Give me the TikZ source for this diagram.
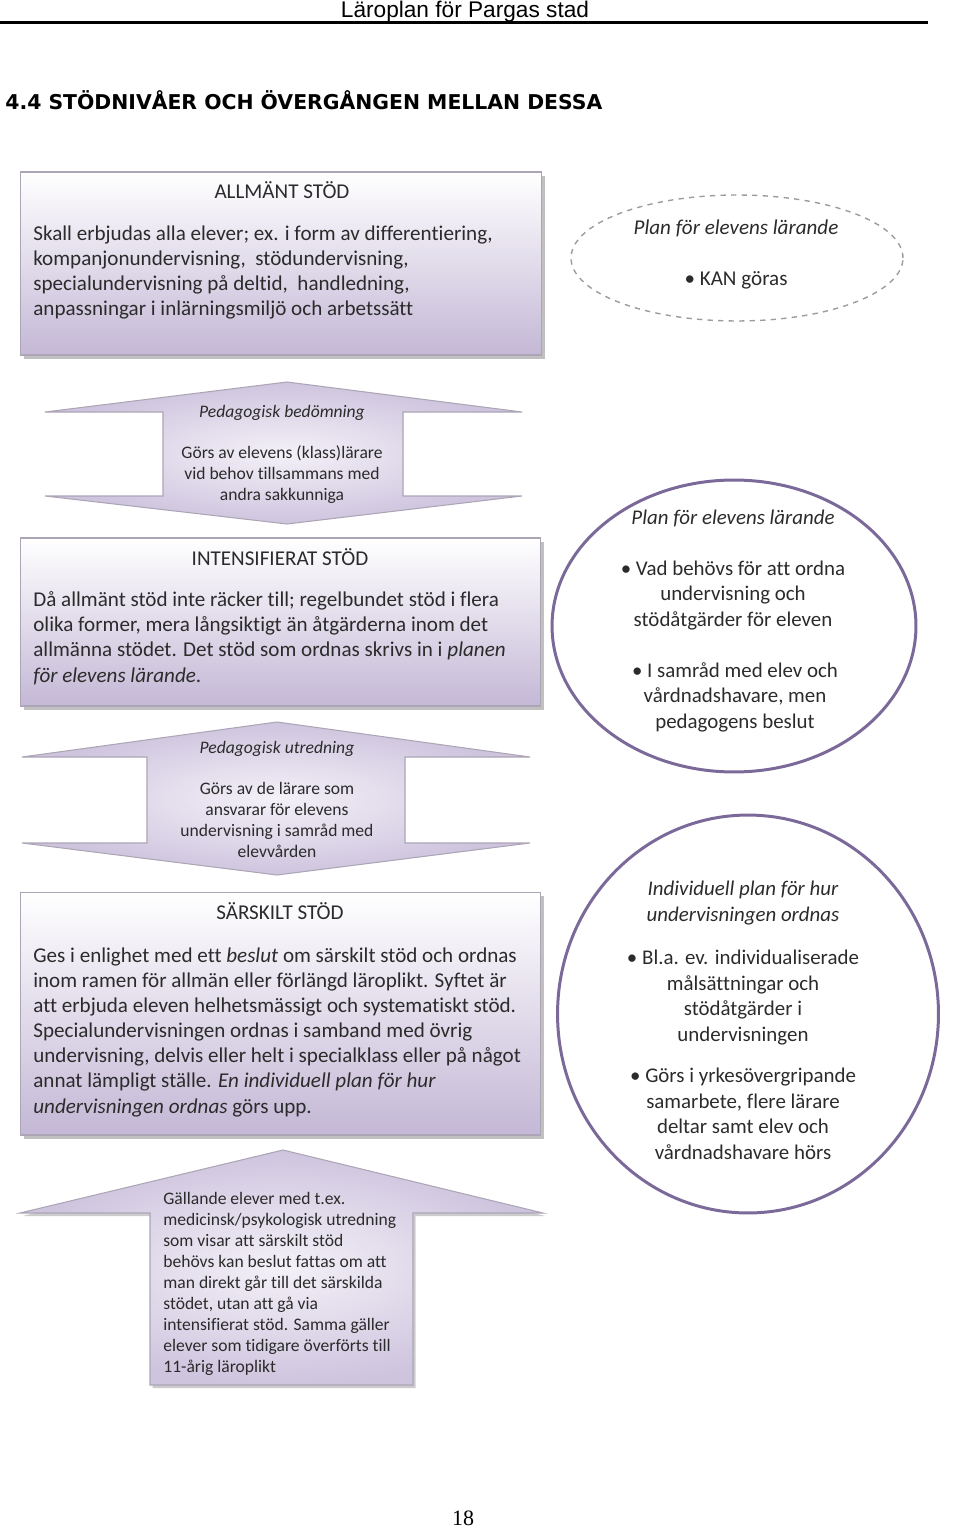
\documentclass[tikz,border=0pt]{standalone}
\usepackage{fontspec}
\setmainfont{Carlito}[Ligatures={NoCommon}]
\newfontfamily\headfont{Liberation Sans}
\newfontfamily\titlefont{DejaVu Sans}
\newfontfamily\numfont{Liberation Serif}
\usepackage{tikz}
\usetikzlibrary{positioning,shapes.geometric,shadows}
\definecolor{LavDeep}{HTML}{C4B8D6}
\definecolor{LavLight}{HTML}{F4F1F8}
\definecolor{LavArrow}{HTML}{CEC4DE}
\definecolor{EdgeGray}{HTML}{ACA5B6}
\definecolor{RingPurple}{HTML}{7A6999}
\definecolor{DashGray}{HTML}{9C9C9C}
\definecolor{InkGray}{HTML}{2B2B2B}
\newcommand\boxsize{\fontsize{12pt}{14.3pt}\selectfont}
\newcommand\arrowsize{\fontsize{10pt}{11.9pt}\selectfont}
\newcommand\ringsize{\fontsize{11.9pt}{14.5pt}\selectfont}

\begin{document}
\begin{tikzpicture}[
    x=0.02cm, y=-0.02cm,
    stodbox/.style={
        rectangle,
        draw=EdgeGray,
        line width=0.6pt,
        top color=white,
        bottom color=LavDeep,
        drop shadow={shadow xshift=0.07cm, shadow yshift=-0.08cm, fill=black!45, opacity=0.55}
    },
    stodarrow/.style={
        draw=EdgeGray,
        line width=0.6pt,
        inner color=LavLight,
        outer color=LavArrow
    },
    planring/.style={
        ellipse,
        draw=RingPurple,
        line width=1.7pt
    },
    plandash/.style={
        ellipse,
        draw=DashGray,
        dashed,
        line width=0.8pt
    },
    boxtext/.style={font=\boxsize, text=InkGray, inner sep=0pt, align=left},
    arrowtext/.style={font=\arrowsize, text=InkGray, inner sep=0pt, align=center},
    ringtext/.style={font=\ringsize, text=InkGray, inner sep=0pt, align=center}
]
\useasboundingbox (0,0) rectangle (960,1530);

\node[font=\headfont\fontsize{12.9pt}{14pt}\selectfont, inner sep=0pt, anchor=base] (head) at (465,18) {Läroplan för Pargas stad};
\draw[line width=1.7pt] (0,23) -- (928,23);
\node[font=\titlefont\bfseries\fontsize{11.6pt}{13pt}\selectfont, inner sep=0pt, anchor=base west] (rubrik) at (5,110) {4.4 STÖDNIVÅER OCH ÖVERGÅNGEN MELLAN DESSA};

\node[stodbox, minimum width=10.44cm, minimum height=3.66cm] (allmant) at (281,263.5) {};
\node[boxtext, anchor=base] (allmantRubrik) at (282,199) {ALLMÄNT STÖD};
\node[boxtext, anchor=base west] (allmantText) at (33,316) {Skall erbjudas alla elever; ex. i form av differentiering,\\
kompanjonundervisning,~ stödundervisning,\\
specialundervisning på deltid,~ handledning,\\
anpassningar i inlärningsmiljö och arbetssätt};

\node[plandash, minimum width=6.64cm, minimum height=2.52cm] (planKan) at (737,258) {};
\node[ringtext, font=\fontsize{12pt}{14.5pt}\selectfont, anchor=base] (planKanRubrik) at (736,235) {\itshape Plan för elevens lärande};
\node[ringtext, font=\fontsize{12pt}{14.5pt}\selectfont, anchor=base] (planKanText) at (736,286) {• KAN göras};

\path[stodarrow] (287,382) -- (522,412) -- (403,412) -- (403,496) -- (522,496) -- (287,524)
    -- (45,496) -- (163,496) -- (163,412) -- (45,412) -- cycle;
\node[arrowtext, anchor=base] (bedomning) at (282,418) {\itshape Pedagogisk bedömning};
\node[arrowtext, anchor=base] (bedomningText) at (282,500) {Görs av elevens (klass)lärare\\vid behov tillsammans med\\andra sakkunniga};

\node[stodbox, minimum width=10.42cm, minimum height=3.36cm] (intensifierat) at (280.5,622) {};
\node[boxtext, anchor=base] (intensifieratRubrik) at (280,565) {INTENSIFIERAT STÖD};
\node[boxtext, anchor=base west] (intensifieratText) at (33,682) {Då allmänt stöd inte räcker till; regelbundet stöd i flera\\
olika former, mera långsiktigt än åtgärderna inom det\\
allmänna stödet. Det stöd som ordnas skrivs in i \textit{planen}\\
\textit{för elevens lärande}.};

\node[planring, minimum width=7.28cm, minimum height=5.84cm] (planLarande) at (734,626) {};
\node[ringtext, anchor=base] (planLarandeRubrik) at (733,524) {\itshape Plan för elevens lärande};
\node[ringtext, anchor=base] (planLarandeEtt) at (733,626) {• Vad behövs för att ordna\\undervisning och\\stödåtgärder för eleven};
\node[ringtext, anchor=base] (planLarandeTva) at (735,728) {• I samråd med elev och\\vårdnadshavare, men\\pedagogens beslut};

\path[stodarrow] (277,722) -- (530,757) -- (405,757) -- (405,843) -- (530,843) -- (277,875)
    -- (22,843) -- (147,843) -- (147,757) -- (22,757) -- cycle;
\node[arrowtext, anchor=base] (utredning) at (277,753) {\itshape Pedagogisk utredning};
\node[arrowtext, anchor=base] (utredningText) at (277,857) {Görs av de lärare som\\ansvarar för elevens\\undervisning i samråd med\\elevvården};

\node[stodbox, minimum width=10.42cm, minimum height=4.86cm] (sarskilt) at (280.5,1013.5) {};
\node[boxtext, anchor=base] (sarskiltRubrik) at (280,919) {SÄRSKILT STÖD};
\node[boxtext, anchor=base west] (sarskiltText) at (33,1113) {Ges i enlighet med ett \textit{beslut} om särskilt stöd och ordnas\\
inom ramen för allmän eller förlängd läroplikt. Syftet är\\
att erbjuda eleven helhetsmässigt och systematiskt stöd.\\
Specialundervisningen ordnas i samband med övrig\\
undervisning, delvis eller helt i specialklass eller på något\\
annat lämpligt ställe. \textit{En individuell plan för hur}\\
\textit{undervisningen ordnas} görs upp.};

\node[planring, minimum width=7.62cm, minimum height=7.96cm] (individuell) at (748,1014) {};
\node[ringtext, anchor=base] (individuellRubrik) at (743,921) {\itshape Individuell plan för hur\\\itshape undervisningen ordnas};
\node[ringtext, anchor=base] (individuellEtt) at (743,1041) {• Bl.a. ev. individualiserade\\målsättningar och\\stödåtgärder i\\undervisningen};
\node[ringtext, anchor=base] (individuellTva) at (743,1159) {• Görs i yrkesövergripande\\samarbete, flere lärare\\deltar samt elev och\\vårdnadshavare hörs};

\path[stodarrow, drop shadow={shadow xshift=0.05cm, shadow yshift=-0.06cm, fill=black!40, opacity=0.5}]
    (283,1150) -- (543,1213) -- (413,1213) -- (413,1385) -- (150,1385) -- (150,1213) -- (20,1213) -- cycle;
\node[arrowtext, align=left, anchor=base west] (direkt) at (163,1372) {Gällande elever med t.ex.\\
medicinsk/psykologisk utredning\\
som visar att särskilt stöd\\
behövs kan beslut fattas om att\\
man direkt går till det särskilda\\
stödet, utan att gå via\\
intensifierat stöd. Samma gäller\\
elever som tidigare överförts till\\
11-årig läroplikt};

\node[font=\numfont\fontsize{12.5pt}{14pt}\selectfont, inner sep=0pt, anchor=base] (sida) at (463,1525) {18};

\end{tikzpicture}
\end{document}
